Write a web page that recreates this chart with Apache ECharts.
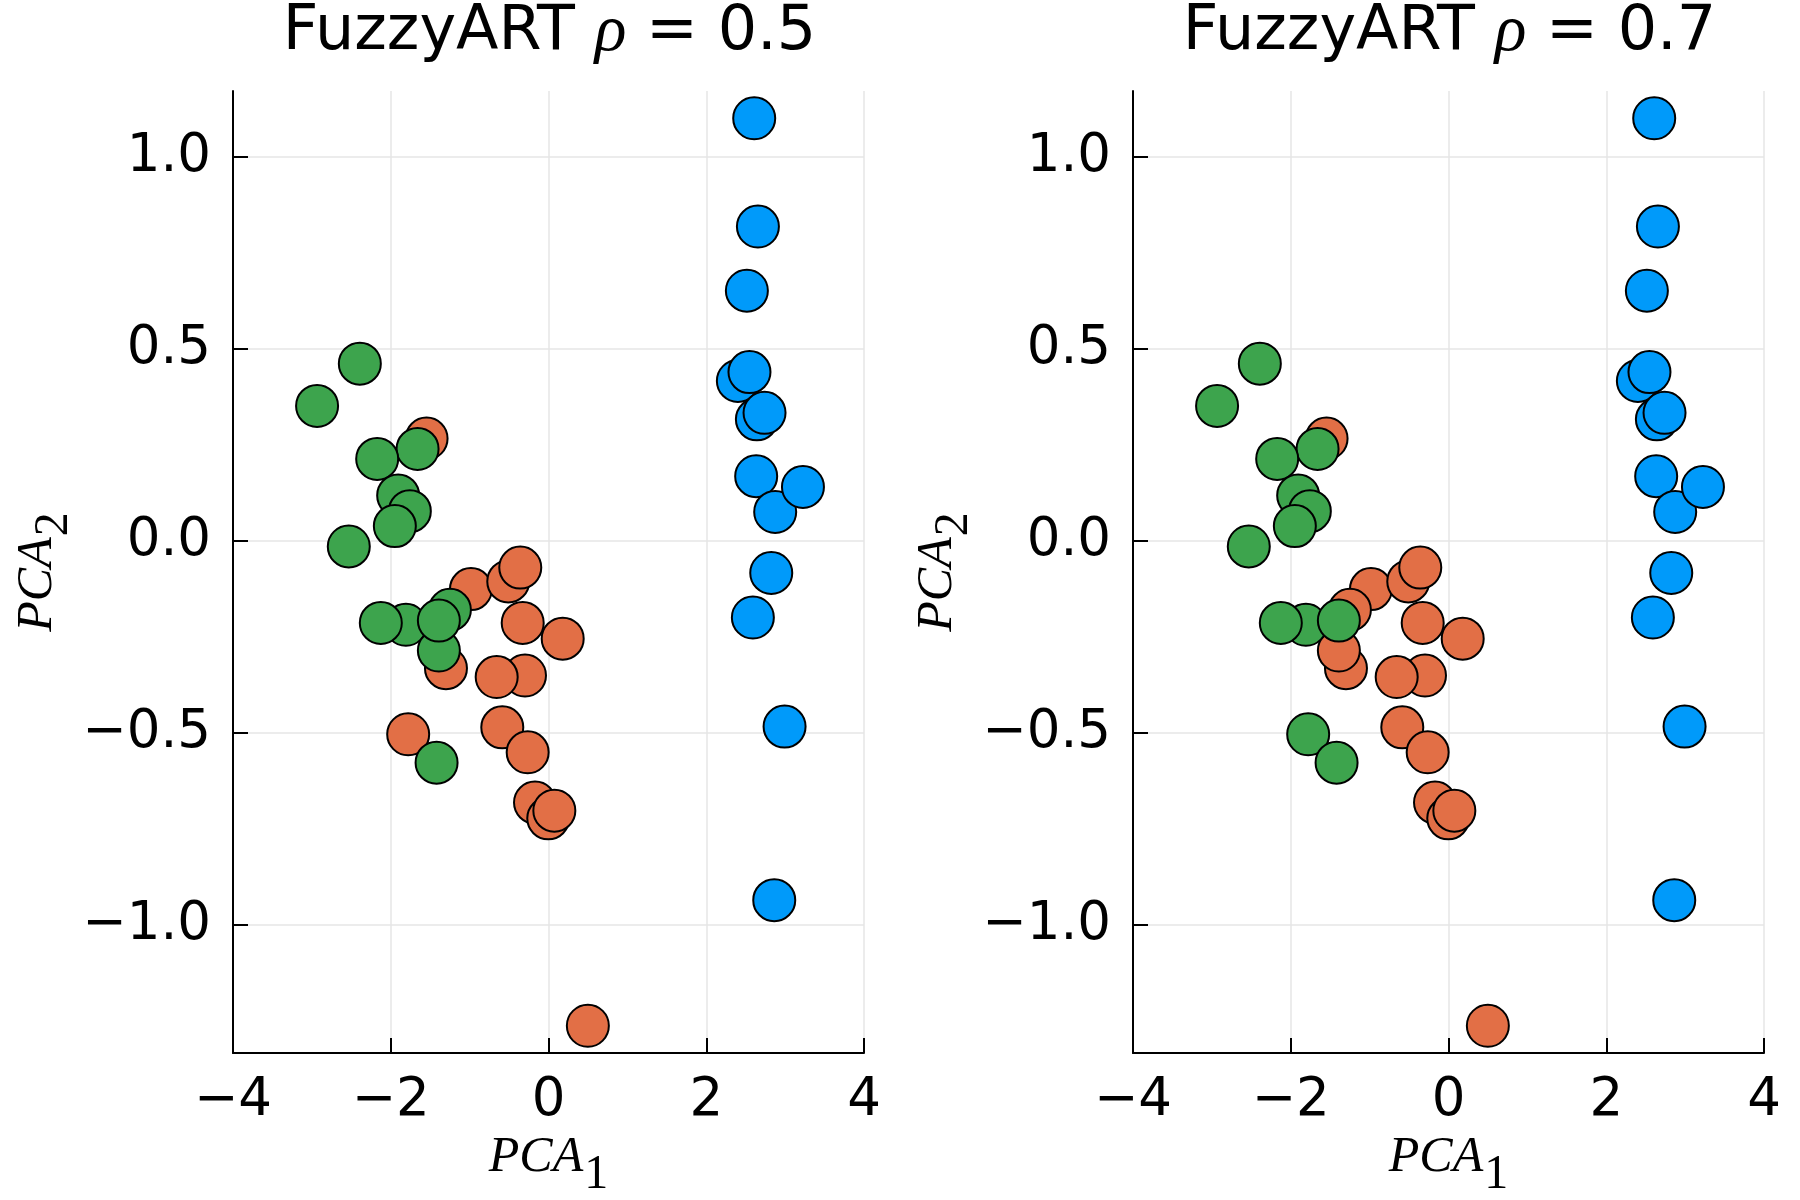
<!DOCTYPE html>
<html><head><meta charset="utf-8">
<script src="https://cdn.jsdelivr.net/npm/echarts@6/dist/echarts.min.js"></script>
<style>html,body{margin:0;padding:0;background:#fff}#c{width:1800px;height:1200px}</style>
</head><body><div id="c"></div>
<script>
// PCA coordinates of each sample
const pca1 = [2.608, 2.655, 2.515, 2.401, 2.548, 2.642, 2.739, 2.633, 2.874, 3.226, 2.824, 2.591, 2.993, 2.862,
  0.499, 0.180, -1.546, -0.983, -0.510, -0.358, -0.327, -0.298, -0.657, -1.300, -0.586, -0.264, -0.171, -0.003, 0.074,
  -2.392, -2.934, -1.660, -2.172, -1.906, -1.758, -1.948, -2.532, -1.250, -1.808, -2.126, -1.390, -1.390, -1.779, -1.419];
const pca2 = [1.101, 0.819, 0.652, 0.417, 0.440, 0.317, 0.334, 0.169, 0.076, 0.141, -0.083, -0.199, -0.483, -0.935,
  -1.262, -0.254, 0.267, -0.125, -0.105, -0.069, -0.213, -0.350, -0.354, -0.331, -0.485, -0.550, -0.681, -0.722, -0.702,
  0.462, 0.352, 0.240, 0.214, 0.119, 0.078, 0.039, -0.014, -0.179, -0.218, -0.213, -0.285, -0.207, -0.503, -0.577];
// cluster labels (1,2,3) for each vigilance value
const clusterRho05 = [1,1,1,1,1,1,1,1,1,1,1,1,1,1,
  2,2,2,2,2,2,2,2,2,2,2,2,2,2,2,
  3,3,3,3,3,3,3,3,3,3,3,3,3,2,3];
const clusterRho07 = [1,1,1,1,1,1,1,1,1,1,1,1,1,1,
  2,2,2,2,2,2,2,2,2,2,2,2,2,2,2,
  3,3,3,3,3,3,3,3,2,3,3,2,3,3,3];
const rhoValues = ['0.5', '0.7'];
const clusterIds = [1, 2, 3];
const xTicks = [-4, -2, 0, 2, 4];
const yTicks = [-1, -0.5, 0, 0.5, 1];

const clusterColors = ['#009AFA', '#E26F46', '#3DA44D'];
const assignments = [clusterRho05, clusterRho07];
const gridLefts = [233, 1133];
const plotW = 631, plotTop = 91, plotH = 962;
const minus = s => s.replace('-', '\u2212');

const nameRich = {
  v: { fontFamily: 'Liberation Serif', fontStyle: 'italic', fontSize: 50, lineHeight: 50, verticalAlign: 'top', color: '#000' },
  s: { fontFamily: 'Liberation Serif', fontSize: 48, lineHeight: 50, verticalAlign: 'top', padding: [18, 0, 0, 1], color: '#000' }
};

const grids = [], xAxes = [], yAxes = [], titles = [], series = [];
assignments.forEach((labels, p) => {
  grids.push({ left: gridLefts[p], top: plotTop, width: plotW, height: plotH, containLabel: false, outerBoundsMode: 'none' });
  titles.push({
    text: 'FuzzyART {r|\u03c1} = ' + rhoValues[p],
    left: gridLefts[p] + plotW / 2 - 4, top: -5, textAlign: 'center',
    textStyle: { fontFamily: 'DejaVu Sans', fontSize: 62, fontWeight: 'normal', color: '#000',
      rich: { r: { fontFamily: 'Liberation Serif', fontStyle: 'italic', fontSize: 66, color: '#000' } } }
  });
  const axisLine = { show: true, onZero: false, lineStyle: { color: '#000', width: 2 } };
  const splitLine = { show: true, lineStyle: { color: '#e6e6e6', width: 1.5 } };
  xAxes.push({
    gridIndex: p, type: 'value', min: -4, max: 4, interval: 2,
    axisLine, splitLine,
    axisTick: { show: true, inside: true, length: 15, lineStyle: { color: '#000', width: 2 } },
    axisLabel: { fontFamily: 'DejaVu Sans', fontSize: 53, color: '#000', margin: 22,
      formatter: v => minus(String(v)) },
    name: '{v|PCA}{s|1}', nameLocation: 'middle', nameGap: 72,
    nameTextStyle: { rich: nameRich }
  });
  yAxes.push({
    gridIndex: p, type: 'value', min: -1.333, max: 1.172,
    axisLine, splitLine,
    axisTick: { show: true, inside: true, length: 15, customValues: yTicks, lineStyle: { color: '#000', width: 2 } },
    axisLabel: { fontFamily: 'DejaVu Sans', fontSize: 53, color: '#000', margin: 22, customValues: yTicks,
      formatter: v => minus(Number(v).toFixed(1)) },
    name: '{v|PCA}{s|2}', nameLocation: 'middle', nameGap: 168,
    nameTextStyle: { rich: nameRich }
  });
  clusterIds.forEach((cid, k) => {
    const data = [];
    labels.forEach((c, i) => { if (c === cid) data.push([pca1[i], pca2[i]]); });
    series.push({
      type: 'scatter', xAxisIndex: p, yAxisIndex: p, data,
      symbol: 'circle', symbolSize: 42,
      itemStyle: { color: clusterColors[k], borderColor: '#000', borderWidth: 2, opacity: 1 },
      emphasis: { disabled: true }, silent: true, z: 2 + k
    });
  });
});

const chart = echarts.init(document.getElementById('c'), null, { renderer: 'canvas' });
chart.setOption({
  animation: false, backgroundColor: '#fff',
  title: titles, grid: grids, xAxis: xAxes, yAxis: yAxes, series
});
</script></body></html>
